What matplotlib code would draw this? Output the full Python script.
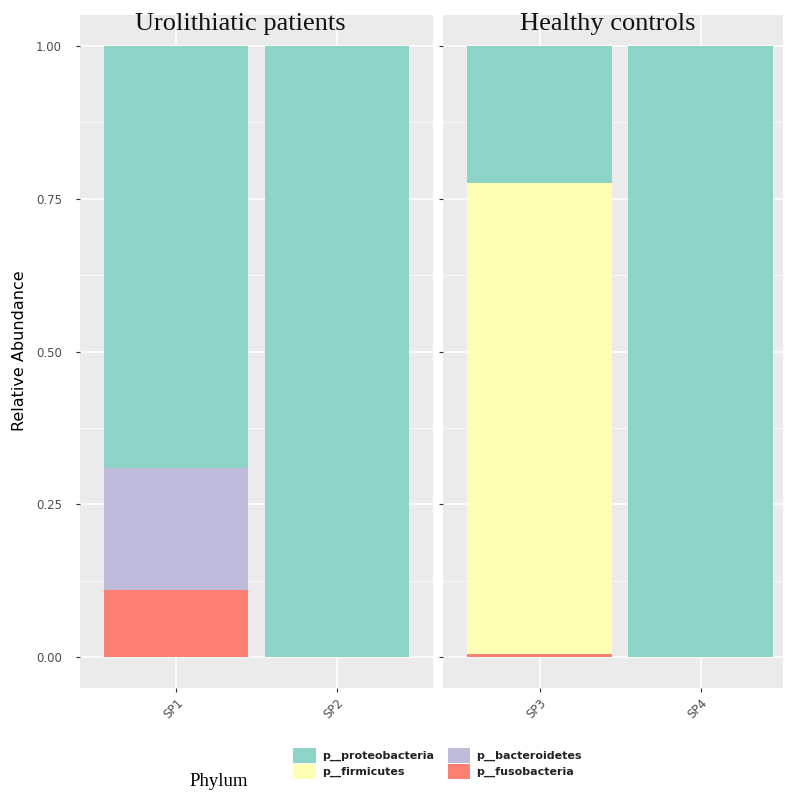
import matplotlib
matplotlib.use("Agg")
import matplotlib.pyplot as plt
from matplotlib.patches import Patch

# Relative abundance per sample, one list per phylum
groups = ["Urolithiatic patients", "Healthy controls"]
samples = [["SP1", "SP2"], ["SP3", "SP4"]]
phyla = ["p__proteobacteria", "p__firmicutes", "p__bacteroidetes", "p__fusobacteria"]
colors = ["#8DD3C7", "#FFFFB3", "#BEBADA", "#FB8072"]
y_ticks = [0.0, 0.25, 0.50, 0.75, 1.00]
y_ticklabels = ["0.00", "0.25", "0.50", "0.75", "1.00"]

proteobacteria = [0.69, 1.00, 0.225, 1.00]
firmicutes = [0.00, 0.00, 0.770, 0.00]
bacteroidetes = [0.20, 0.00, 0.000, 0.00]
fusobacteria = [0.11, 0.00, 0.005, 0.00]

abundance = {
    "p__proteobacteria": proteobacteria,
    "p__firmicutes": firmicutes,
    "p__bacteroidetes": bacteroidetes,
    "p__fusobacteria": fusobacteria,
}

W, H = 788, 797
fig = plt.figure(figsize=(W / 100, H / 100), dpi=100, facecolor="white")


def px_axes(x0, x1, y0, y1):
    # axes placed by pixel edges (y measured from the top)
    return fig.add_axes([x0 / W, (H - y1) / H, (x1 - x0) / W, (y1 - y0) / H])


panels = [px_axes(80, 433, 15, 688), px_axes(443, 783, 15, 688)]
xlims = [(0.4, 2.6), (0.4, 2.51)]
title_x = [240, 608]

# stacking from the bottom: last factor level first
stack_order = phyla[::-1]

for p, ax in enumerate(panels):
    ax.set_facecolor("#EBEBEB")
    idx = [2 * p, 2 * p + 1]
    xs = [1, 2]
    bottom = [0.0, 0.0]
    for name in stack_order:
        vals = [abundance[name][i] for i in idx]
        ax.bar(xs, vals, width=0.9, bottom=bottom,
               color=colors[phyla.index(name)], linewidth=0, zorder=3)
        bottom = [b + v for b, v in zip(bottom, vals)]

    ax.set_xlim(*xlims[p])
    ax.set_ylim(-0.05, 1.05)
    ax.set_yticks(y_ticks)
    ax.set_yticks([0.125, 0.375, 0.625, 0.875], minor=True)
    ax.set_xticks(xs)
    ax.set_xticklabels(samples[p], rotation=45, ha="right", va="top",
                       rotation_mode="anchor", fontsize=8.5, color="#4D4D4D")
    ax.grid(which="major", color="white", linewidth=1.1, zorder=1)
    ax.grid(which="minor", axis="y", color="white", linewidth=0.5, zorder=1)
    for s in ax.spines.values():
        s.set_visible(False)
    ax.tick_params(axis="both", which="major", length=3, color="#333333",
                   width=0.8)
    ax.tick_params(axis="x", which="major", pad=3)
    ax.tick_params(axis="y", which="major", pad=10)
    ax.tick_params(axis="y", which="minor", length=0)
    if p == 0:
        ax.set_yticklabels(y_ticklabels, fontsize=8.5, color="#4D4D4D")
    else:
        ax.set_yticklabels([])
    fig.text(title_x[p] / W, 1 - 13 / H, groups[p], ha="center", va="top",
             fontsize=19, family="Liberation Serif", color="#111111",
             zorder=5)

fig.text(20 / W, 1 - 351 / H, "Relative Abundance", rotation=90,
         ha="center", va="center", fontsize=11.5, color="black")

# legend below the panels
fig.text(219 / W, 1 - 781 / H, "Phylum", ha="center", va="center",
         fontsize=13.5, family="Liberation Serif", color="black")
handles = [Patch(facecolor=c, edgecolor="none") for c in colors]
fig.legend(handles, phyla, ncol=2, loc="upper left",
           bbox_to_anchor=(289 / W, 1 - 744 / H), frameon=False,
           handlelength=2.0, handleheight=1.6, handletextpad=0.6,
           columnspacing=1.2, labelspacing=0.15, borderaxespad=0,
           prop={"size": 8, "weight": "bold"}, labelcolor="#222222")

fig.savefig("out.png", dpi=100, facecolor="white")
